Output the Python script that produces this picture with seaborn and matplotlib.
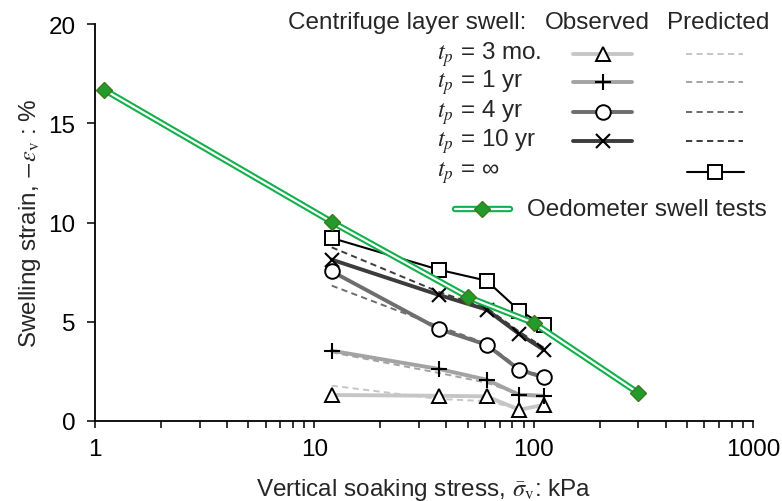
import numpy as np
import pandas as pd
import matplotlib
matplotlib.use("Agg")
import matplotlib.pyplot as plt
from matplotlib.lines import Line2D
import seaborn as sns

# Centrifuge tests: soaking stress (kPa) and swelling strain (%)
stress = [12, 37, 61, 86, 111]
obs_3mo = [1.31, 1.27, 1.24, 0.57, 0.81]
obs_1yr = [3.54, 2.62, 2.08, 1.32, 1.27]
obs_4yr = [7.54, 4.63, 3.84, 2.58, 2.20]
obs_10yr = [8.13, 6.35, 5.61, 4.38, 3.59]
pred_3mo = [1.78, 1.11, 1.00, 0.62, 0.80]
pred_1yr = [3.46, 2.42, 1.93, 1.35, 1.30]
pred_4yr = [6.82, 4.77, 3.90, 2.65, 2.25]
pred_10yr = [8.75, 6.50, 5.70, 4.50, 3.70]
pred_inf = [9.22, 7.62, 7.07, 5.56, 4.84]

# Oedometer swell tests
oed_stress = [1.1, 12, 50, 100, 300]
oed_swell = [16.69, 10.03, 6.25, 4.94, 1.41]

row_labels = ["$t_p$ = 3 mo.", "$t_p$ = 1 yr", "$t_p$ = 4 yr", "$t_p$ = 10 yr", "$t_p$ = \u221e"]
x_ticks = [1, 10, 100, 1000]
y_ticks = [0, 5, 10, 15, 20]

sns.set_style("ticks")
plt.rcParams["font.family"] = ["Liberation Sans", "DejaVu Sans"]
plt.rcParams["mathtext.fontset"] = "stix"
FS = 17.5

W, H = 782, 502
fig = plt.figure(figsize=(W / 100, H / 100), dpi=100)
ax = fig.add_axes([95 / W, 1 - 422 / H, (753 - 95) / W, (422 - 25) / H])

greys = ["#c6c6c6", "#a3a3a3", "#6e6e6e", "#3c3c3c"]
markers = ["^", "+", "o", "x"]
msizes = [10, 12, 10.5, 10]
obs = [obs_3mo, obs_1yr, obs_4yr, obs_10yr]
pred = [pred_3mo, pred_1yr, pred_4yr, pred_10yr]
dash = (3.2, 2.2)
SQ = 9.5
DM = 8.5


def mstyle(m, ms):
    if m in ("+", "x"):
        return dict(marker=m, markersize=ms, markeredgecolor="black",
                    markeredgewidth=1.5)
    return dict(marker=m, markersize=ms, markerfacecolor="white",
                markeredgecolor="black", markeredgewidth=1.4)


# predicted curves (dashed)
for c, ys in zip(greys, pred):
    sns.lineplot(x=stress, y=ys, ax=ax, color=c, lw=1.4, dashes=False,
                 linestyle=(0, dash), sort=False, zorder=2)

# observed curves with markers
for c, ys, m, ms in zip(greys, obs, markers, msizes):
    sns.lineplot(x=stress, y=ys, ax=ax, color=c, lw=2.8, sort=False,
                 zorder=3, **mstyle(m, ms))

# predicted final swell
sns.lineplot(x=stress, y=pred_inf, ax=ax, color="black", lw=1.5, sort=False,
             zorder=4, marker="s", markersize=SQ, markerfacecolor="white",
             markeredgecolor="black", markeredgewidth=1.4)

# oedometer: double green line with diamonds
sns.lineplot(x=oed_stress, y=oed_swell, ax=ax, color="#12b04a", lw=4.6,
             sort=False, zorder=5)
sns.lineplot(x=oed_stress, y=oed_swell, ax=ax, color="white", lw=1.6,
             sort=False, zorder=6)
sns.lineplot(x=oed_stress, y=oed_swell, ax=ax, lw=0, sort=False, zorder=7,
             marker="D", markersize=DM, markerfacecolor="#239a2c",
             markeredgecolor="#3c7a1e", markeredgewidth=1.0)

ax.set_xscale("log")
ax.set_xlim(1, 1000)
ax.set_ylim(0, 20)
ax.set_xticks(x_ticks)
ax.set_xticklabels([str(v) for v in x_ticks])
ax.set_yticks(y_ticks)
ax.set_yticklabels([str(v) for v in y_ticks])
ax.xaxis.set_minor_locator(matplotlib.ticker.LogLocator(base=10, subs=np.arange(2, 10)))
ax.xaxis.set_minor_formatter(matplotlib.ticker.NullFormatter())
ax.tick_params(axis="both", which="major", labelsize=FS, direction="out",
               length=5, width=1.1, color="black", labelcolor="black")
ax.tick_params(axis="x", which="minor", direction="out", length=5, width=1.1,
               color="black")
ax.tick_params(axis="y", which="major", length=6, pad=8)
ax.tick_params(axis="x", which="major", pad=7)
for s in ("top", "right"):
    ax.spines[s].set_visible(False)
for s in ("left", "bottom"):
    ax.spines[s].set_linewidth(1.3)
    ax.spines[s].set_color("black")

ax.set_xlabel(r"Vertical soaking stress, $\bar{\sigma}_{\rm v}$: kPa",
              fontsize=FS, labelpad=12)
ax.set_ylabel(r"Swelling strain, $-\varepsilon_{\rm v}$ : %", fontsize=FS,
              labelpad=4)


# hand-built legend table (positions in figure pixels from top-left)
def fp(x, y):
    return x / W, 1 - y / H


def key(x0, x1, y, **kw):
    (a, b), (c, _) = fp(x0, y), fp(x1, y)
    fig.add_artist(Line2D([a, c], [b, b], transform=fig.transFigure, **kw))


def mark(x, y, **kw):
    a, b = fp(x, y)
    fig.add_artist(Line2D([a], [b], transform=fig.transFigure, lw=0, **kw))


hy = 23
for txt, x in [("Centrifuge layer swell:", 288), ("Observed", 545),
               ("Predicted", 667)]:
    fig.text(*fp(x, hy), txt, fontsize=FS, va="center", ha="left")

rows_y = [55, 83, 113, 142, 173]
for i, (lab, y) in enumerate(zip(row_labels, rows_y)):
    fig.text(*fp(437, y), lab, fontsize=FS, va="center", ha="left")
    if i < 4:
        key(573, 632, y, color=greys[i], lw=2.8)
        mark(603, y, **mstyle(markers[i], msizes[i]))
        key(686, 743, y, color=greys[i], lw=1.4, linestyle=(0, dash))
    else:
        key(687, 744, y, color="black", lw=1.5)
        mark(715, y, marker="s", markersize=SQ, markerfacecolor="white",
             markeredgecolor="black", markeredgewidth=1.4)

oy = 210
key(455, 510, oy, color="#12b04a", lw=4.6)
key(455, 510, oy, color="white", lw=1.6)
mark(482, oy, marker="D", markersize=DM, markerfacecolor="#239a2c",
     markeredgecolor="#3c7a1e", markeredgewidth=1.0)
fig.text(*fp(527, oy), "Oedometer swell tests", fontsize=FS, va="center",
         ha="left")

fig.savefig("out.png", dpi=100)
